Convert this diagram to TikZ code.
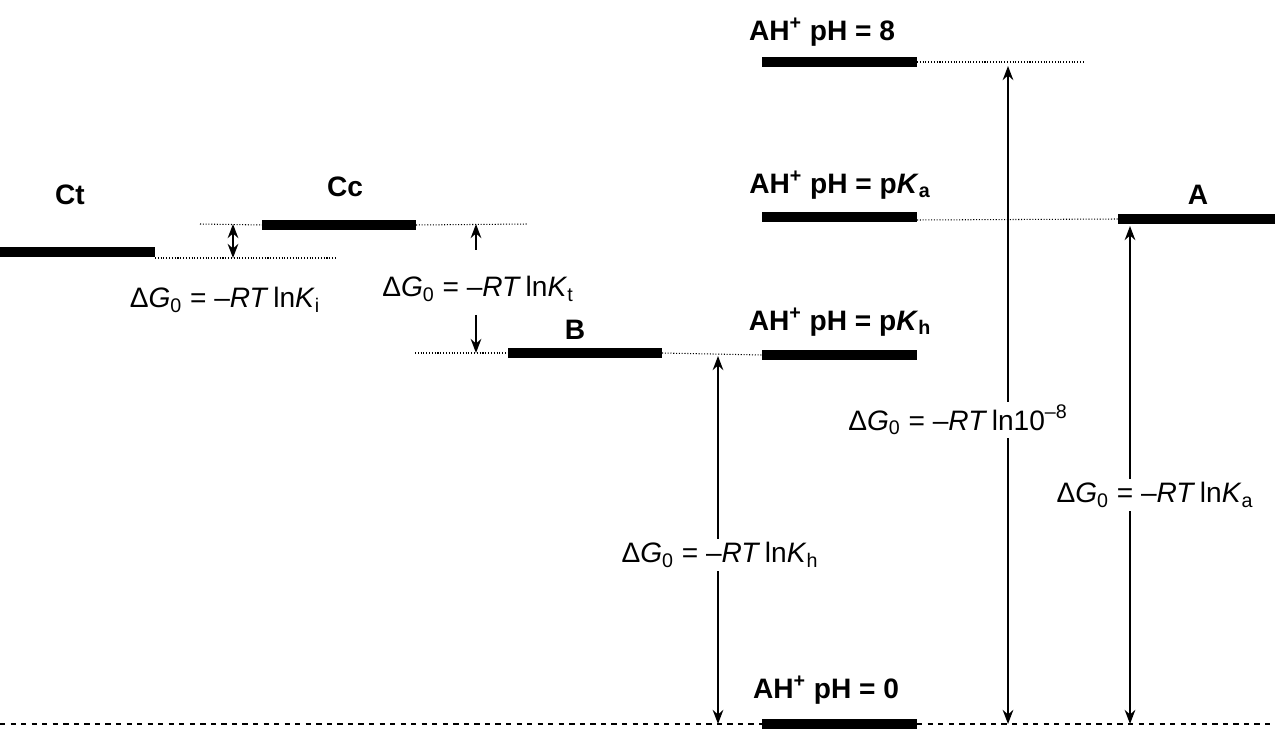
\documentclass[tikz,border=0pt]{standalone}
\usepackage{fontspec}
\setmainfont{Liberation Sans}
\usetikzlibrary{arrows.meta}
\tikzset{lvl/.style={line width=10*0.02cm},
  dot/.style={densely dotted,line width=0.6pt},
  lab/.style={font=\fontsize{16}{19}\selectfont\bfseries},
  eq/.style={font=\fontsize{16}{19}\selectfont,fill=white,inner sep=2pt},
  arr/.style={line width=1.4pt,-{Stealth[length=8pt,width=6pt]}},
  darr/.style={line width=1.4pt,{Stealth[length=8pt,width=6pt]}-{Stealth[length=8pt,width=6pt]}}}
\begin{document}
\begin{tikzpicture}[x=0.02cm,y=-0.02cm]
\useasboundingbox (0,0) rectangle (1275,729);
% levels
\coordinate (CtL) at (0,252); \coordinate (CtR) at (155,252);
\coordinate (CcL) at (262,225); \coordinate (CcR) at (416,225);
\coordinate (BL) at (508,353); \coordinate (BR) at (662,353);
\coordinate (KhL) at (762,355); \coordinate (KhR) at (917,355);
\coordinate (KaL) at (762,217); \coordinate (KaR) at (917,217);
\coordinate (AL) at (1118,219); \coordinate (AR) at (1275,219);
\coordinate (P8L) at (762,62); \coordinate (P8R) at (917,62);
\coordinate (P0L) at (762,724); \coordinate (P0R) at (917,724);
\foreach \a/\b in {CtL/CtR,CcL/CcR,BL/BR,KhL/KhR,KaL/KaR,AL/AR,P8L/P8R,P0L/P0R}
  \draw[lvl] (\a) -- (\b);
\node[lab] (Ct) at (70,195) {Ct};
\node[lab] (Cc) at (345,187) {Cc};
\node[lab] (B) at (575,330) {B};
\node[lab] (A) at (1198,195) {A};
\node[lab] (Kh) at (840,322) {AH\textsuperscript{+} pH = p\textit{K}\textsubscript{h}};
\node[lab] (Ka) at (840,185) {AH\textsuperscript{+} pH = p\textit{K}\textsubscript{a}};
\node[lab] (P8) at (822,32) {AH\textsuperscript{+} pH = 8};
\node[lab] (P0) at (826,690) {AH\textsuperscript{+} pH = 0};
% guide lines
\draw[dot] (155,258) -- (335,258);
\draw[dot] (200,224) -- (CcL);
\draw[dot] (CcR) -- (528,224);
\draw[dot] (415,353) -- (BL);
\draw[dot] (BR) -- (KhL);
\draw[dot] (917,220) -- (AL);
\draw[dot] (P8R) -- (1085,62);
\draw[dashed,line width=1.6pt] (0,724) -- (1275,724);
% arrows
\draw[darr] (233,224) -- (233,258);
\draw[arr] (476,250) -- (476,224);
\draw[arr] (476,315) -- (476,353);
\node[eq] (Ki) at (225,300) {Δ\textit{G}\textsubscript{0} = –\textit{RT}\,ln\textit{K}\textsubscript{i}};
\node[eq] (Kt) at (478,289) {Δ\textit{G}\textsubscript{0} = –\textit{RT}\,ln\textit{K}\textsubscript{t}};
\draw[darr] (718,724) -- (718,356);
\node[eq] (Gh) at (720,555) {Δ\textit{G}\textsubscript{0} = –\textit{RT}\,ln\textit{K}\textsubscript{h}};
\draw[darr] (1008,724) -- (1008,66);
\node[eq] (G8) at (958,420) {Δ\textit{G}\textsubscript{0} = –\textit{RT}\,ln10\textsuperscript{–8}};
\draw[darr] (1130,724) -- (1130,226);
\node[eq] (Ga) at (1155,495) {Δ\textit{G}\textsubscript{0} = –\textit{RT}\,ln\textit{K}\textsubscript{a}};
\end{tikzpicture}
\end{document}
